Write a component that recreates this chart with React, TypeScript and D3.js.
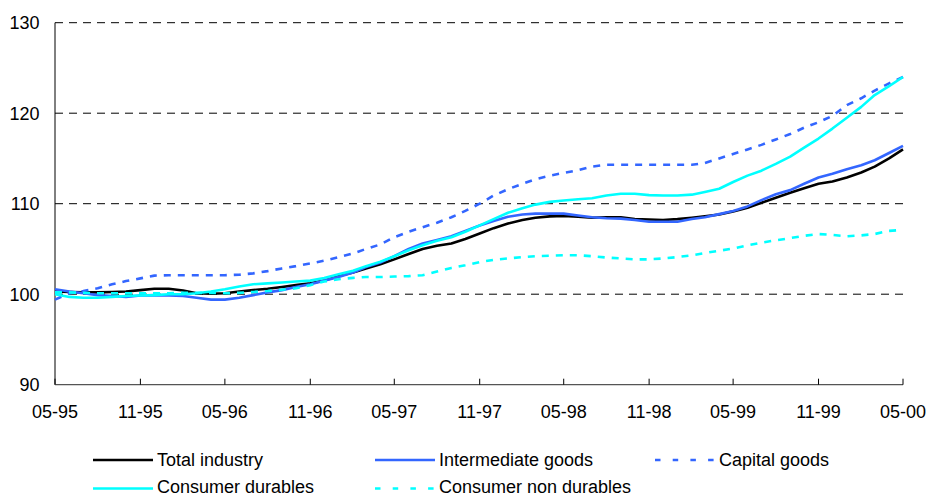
import React from "react";
import * as d3 from "d3";

const startYear = 1995;
const startMonth = 4; // May (0-based)
const monthCount = 61;

const totalIndustry = [
  100.3, 100.25, 100.2, 100.2, 100.25, 100.3, 100.45, 100.6, 100.6, 100.4,
  100.1, 100.05, 100.1, 100.3, 100.45, 100.6, 100.8, 101.0, 101.2, 101.5,
  102.0, 102.4, 102.85, 103.3, 103.85, 104.45, 105.0, 105.35, 105.6, 106.1,
  106.7, 107.3, 107.8, 108.2, 108.45, 108.6, 108.65, 108.55, 108.45, 108.5,
  108.5, 108.3, 108.25, 108.2, 108.3, 108.45, 108.6, 108.8, 109.15, 109.55,
  110.1, 110.65, 111.2, 111.7, 112.2, 112.45, 112.9, 113.45, 114.1, 115.0,
  116.0,
];

const intermediateGoods = [
  100.55, 100.3, 100.1, 99.9, 99.8, 99.7, 99.85, 99.9, 99.85, 99.8,
  99.6, 99.4, 99.4, 99.6, 99.9, 100.2, 100.45, 100.8, 101.1, 101.5,
  101.9, 102.4, 103.0, 103.5, 104.2, 105.0, 105.6, 106.0, 106.4, 107.0,
  107.6, 108.1, 108.55, 108.8, 108.9, 108.9, 108.9, 108.7, 108.5, 108.4,
  108.35, 108.2, 108.0, 108.0, 108.0, 108.3, 108.5, 108.85, 109.2, 109.7,
  110.4, 111.05, 111.5, 112.2, 112.9, 113.3, 113.8, 114.25, 114.8, 115.6,
  116.4,
];

const capitalGoods = [
  99.4, 100.1, 100.35, 100.65, 101.1, 101.45, 101.75, 102.05, 102.1, 102.1,
  102.1, 102.1, 102.1, 102.15, 102.3, 102.55, 102.85, 103.1, 103.4, 103.7,
  104.1, 104.5, 105.0, 105.5, 106.3, 106.9, 107.4, 107.9, 108.5, 109.2,
  110.0, 110.9, 111.6, 112.2, 112.7, 113.1, 113.4, 113.7, 114.1, 114.3,
  114.3, 114.3, 114.3, 114.3, 114.3, 114.3, 114.5, 115.0, 115.5, 116.0,
  116.5, 117.1, 117.7, 118.4, 119.0, 119.7, 120.9, 121.65, 122.5, 123.3,
  124.0,
];

const consumerDurables = [
  100.0, 99.7, 99.6, 99.6, 99.7, 99.8, 99.85, 99.9, 100.0, 100.0,
  100.1, 100.3, 100.55, 100.85, 101.1, 101.2, 101.3, 101.4, 101.5, 101.8,
  102.2, 102.6, 103.1, 103.6, 104.2, 104.85, 105.4, 105.9, 106.3, 106.9,
  107.6, 108.3, 109.0, 109.5, 109.9, 110.2, 110.35, 110.5, 110.6, 110.9,
  111.1, 111.1, 110.95, 110.9, 110.9, 111.0, 111.3, 111.65, 112.4, 113.1,
  113.65, 114.4, 115.2, 116.2, 117.2, 118.3, 119.5, 120.7, 122.0, 123.0,
  124.0,
];

const consumerNonDurables = [
  100.2, 100.2, 100.15, 100.1, 100.1, 100.1, 100.1, 100.1, 100.1, 100.15,
  100.15, 100.15, 100.1, 100.15, 100.25, 100.35, 100.5, 100.65, 101.0, 101.4,
  101.65, 101.8, 101.9, 101.9, 101.95, 102.0, 102.1, 102.5, 102.9, 103.2,
  103.55, 103.8, 103.95, 104.1, 104.2, 104.25, 104.3, 104.3, 104.2, 104.05,
  103.95, 103.85, 103.85, 103.95, 104.1, 104.3, 104.55, 104.8, 105.05, 105.4,
  105.7, 105.95, 106.2, 106.45, 106.65, 106.55, 106.4, 106.5, 106.65, 107.0,
  107.1,
];

const yTicks = [90, 100, 110, 120, 130];
const gridValues = [100, 110, 120, 130];

const seriesNames = [
  "Total industry",
  "Intermediate goods",
  "Capital goods",
  "Consumer durables",
  "Consumer non durables",
];
const seriesColors = ["#000000", "#3366FF", "#3366FF", "#00FFFF", "#00FFFF"];
const seriesDashed = [false, false, true, false, true];
const seriesValues = [
  totalIndustry,
  intermediateGoods,
  capitalGoods,
  consumerDurables,
  consumerNonDurables,
];

const W = 928;
const H = 497;
const M = { left: 55, right: 25, top: 22.7, bottom: 112.3 };
const FONT = "Arial, 'Liberation Sans', sans-serif";
const FS = 18;

export default function App() {
  const dates = d3.range(monthCount).map((i) => new Date(startYear, startMonth + i, 1));
  const x = d3
    .scaleTime()
    .domain([dates[0], dates[dates.length - 1]])
    .range([M.left, W - M.right]);
  const y = d3.scaleLinear().domain([90, 130]).range([H - M.bottom, M.top]);
  const tickDates = dates.filter((_, i) => i % 6 === 0);
  const fmt = d3.timeFormat("%m-%y");

  const line = (vals: number[]) =>
    d3
      .line<number>()
      .x((_, i) => x(dates[i]))
      .y((v) => y(v))
      .curve(d3.curveLinear)(vals) as string;

  const legendCols = [93, 375, 655];
  const legendRows = [460, 488.5];
  const legendTextY = [465.7, 493];

  return (
    <svg
      width={W}
      height={H}
      style={{ position: "absolute", left: 0, top: 0, background: "#fff" }}
      fontFamily={FONT}
    >
      <rect width={W} height={H} fill="#fff" />
      {gridValues.map((v) => (
        <line
          key={v}
          x1={M.left}
          x2={W - M.right}
          y1={y(v)}
          y2={y(v)}
          stroke="#000"
          strokeWidth={1}
          strokeDasharray="8,6"
        />
      ))}
      {yTicks.map((v) => (
        <text
          key={v}
          x={39.5}
          y={y(v)}
          dy="0.35em"
          textAnchor="end"
          fontSize={FS}
          fill="#000"
        >
          {v}
        </text>
      ))}
      <line x1={M.left} x2={M.left} y1={M.top} y2={y(90)} stroke="#000" strokeWidth={1} />
      <line
        x1={M.left}
        x2={W - M.right}
        y1={y(90)}
        y2={y(90)}
        stroke="#555"
        strokeWidth={1.2}
      />
      {tickDates.map((d, i) => (
        <g key={i}>
          <line
            x1={x(d)}
            x2={x(d)}
            y1={y(90)}
            y2={y(90) - 6}
            stroke="#000"
            strokeWidth={1}
          />
          <text x={x(d)} y={417.5} textAnchor="middle" fontSize={FS} fill="#000">
            {fmt(d)}
          </text>
        </g>
      ))}
      {seriesValues.map((vals, i) => (
        <path
          key={i}
          d={line(vals)}
          fill="none"
          stroke={seriesColors[i]}
          strokeWidth={2.6}
          strokeDasharray={seriesDashed[i] ? "7,7" : undefined}
          strokeLinejoin="round"
        />
      ))}
      {seriesNames.map((name, i) => {
        const col = i < 3 ? i : i - 3;
        const row = i < 3 ? 0 : 1;
        const lx = legendCols[col];
        const ly = legendRows[row];
        return (
          <g key={name}>
            <line
              x1={lx}
              x2={lx + 60}
              y1={ly}
              y2={ly}
              stroke={seriesColors[i]}
              strokeWidth={2.6}
              strokeDasharray={seriesDashed[i] ? "5.5,12.2" : undefined}
            />
            <text x={lx + 64} y={legendTextY[row]} fontSize={FS} fill="#000">
              {name}
            </text>
          </g>
        );
      })}
    </svg>
  );
}
